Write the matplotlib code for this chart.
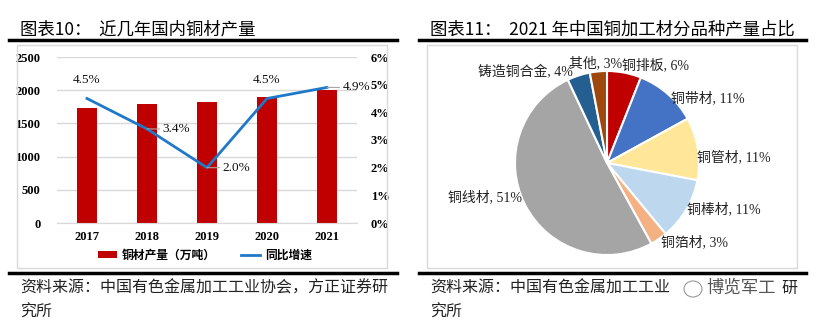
import numpy as np
import matplotlib.pyplot as plt
from matplotlib.patches import Rectangle, Ellipse
from matplotlib.lines import Line2D

plt.rcParams['font.family'] = ['Liberation Serif', 'Noto Sans CJK SC', 'DejaVu Sans']

# 左图：近几年国内铜材产量
years = ['2017', '2018', '2019', '2020', '2021']
output = [1728, 1786, 1822, 1904, 1997]      # 万吨
growth = [4.5, 3.4, 2.0, 4.5, 4.9]           # %
growth_labels = ['4.5%', '3.4%', '2.0%', '4.5%', '4.9%']

# 右图：2021年铜加工材分品种产量占比
kinds = ['铜排板', '铜带材', '铜管材', '铜棒材', '铜箔材', '铜线材', '铸造铜合金', '其他']
shares = [6, 11, 11, 11, 3, 51, 4, 3]
pie_colors = ['#C00000', '#4472C4', '#FFE699', '#BDD7EE', '#F4B183',
              '#A5A5A5', '#255E91', '#9E480E']

W, H = 816, 325
fig = plt.figure(figsize=(W / 100, H / 100), dpi=100)


def fx(px):
    return px / W


def fy(py):
    return 1 - py / H


# 标题、横线、边框
fig.text(fx(20), fy(30), '图表10：  近几年国内铜材产量', fontsize=12.5,
         family=['Noto Sans CJK SC', 'Liberation Serif'], va='center')
fig.text(fx(430), fy(30), '图表11：  2021 年中国铜加工材分品种产量占比', fontsize=12.5,
         family=['Noto Sans CJK SC', 'Liberation Serif'], va='center')
for x0, x1 in [(9, 397), (419, 806)]:
    fig.add_artist(Line2D([fx(x0), fx(x1)], [fy(40), fy(40)], color='black', lw=2.5))
    fig.add_artist(Line2D([fx(x0), fx(x1)], [fy(273), fy(273)], color='black', lw=2.5))
for x0, x1 in [(17, 387), (427, 797)]:
    fig.add_artist(Rectangle((fx(x0), fy(268)), fx(x1 - x0), (268 - 45) / H,
                             fill=False, ec='#D9D9D9', lw=1))

src_style = dict(fontsize=11.5, style='italic', family=['Noto Sans CJK SC'],
                 va='center', color='#222222')
fig.text(fx(20), fy(288), '资料来源：中国有色金属加工工业协会，方正证券研', **src_style)
fig.text(fx(20), fy(312), '究所', **src_style)
fig.text(fx(430), fy(288), '资料来源：中国有色金属加工工业', **src_style)
fig.text(fx(781), fy(288), '研', **src_style)
fig.text(fx(430), fy(312), '究所', **src_style)
# 水印
fig.add_artist(Ellipse((fx(693), fy(289)), fx(18), 16 / H, fill=False,
                       ec='#999999', lw=0.8))
fig.text(fx(706), fy(288), '博览军工', fontsize=12.5, family=['Noto Sans CJK SC'],
         va='center', color='#555555')

# 左图：柱状 + 折线
ax = fig.add_axes([fx(57), fy(223), fx(300), (223 - 57) / H])
x = np.arange(len(years))
ax.bar(x, output, width=0.32, color='#C00000', zorder=2, label='铜材产量（万吨）')
ax.set_xlim(-0.5, len(years) - 0.5)
ax.set_ylim(0, 2500)
ax.set_yticks(np.arange(0, 2501, 500))
ax.yaxis.grid(True, color='#D9D9D9', lw=1)
ax.set_axisbelow(True)
for s in ax.spines.values():
    s.set_visible(False)
ax.spines['bottom'].set_visible(True)
ax.spines['bottom'].set_color('#D9D9D9')
ax.tick_params(length=0)
ax.tick_params(axis='y', pad=12)
ax.tick_params(axis='x', pad=6)
ax.set_xticks(x)
ax.set_xticklabels(years)
for t in ax.get_xticklabels() + ax.get_yticklabels():
    t.set_fontweight('bold')
    t.set_fontsize(9)

ax2 = ax.twinx()
ax2.plot(x, growth, color='#2078C8', lw=2, zorder=3, label='同比增速')
ax2.set_ylim(0, 6)
ax2.set_yticks(range(0, 7))
ax2.set_yticklabels([f'{v}%' for v in range(0, 7)])
for s in ax2.spines.values():
    s.set_visible(False)
ax2.tick_params(length=0, pad=10)
for t in ax2.get_yticklabels():
    t.set_fontweight('bold')
    t.set_fontsize(9)

# 数据标签：上方或右侧（带引线）
above = [True, False, False, True, False]
for i, (g, lab) in enumerate(zip(growth, growth_labels)):
    if above[i]:
        ax2.annotate(lab, (x[i], g), xytext=(0, 9), textcoords='offset points',
                     ha='center', va='bottom', fontsize=9.5, color='#111111')
    else:
        ax2.annotate(lab, (x[i], g), xytext=(11, 0), textcoords='offset points',
                     ha='left', va='center', fontsize=9.5, color='#111111',
                     arrowprops=dict(arrowstyle='-', color='#A6A6A6', lw=0.8,
                                     shrinkA=0, shrinkB=0))

h1, l1 = ax.get_legend_handles_labels()
h2, l2 = ax2.get_legend_handles_labels()
fig.legend(h1 + h2, l1 + l2, loc='center', bbox_to_anchor=(fx(205), fy(255)),
           ncol=2, frameon=False, handlelength=1.6, handleheight=0.6,
           columnspacing=2.2, handletextpad=0.4,
           prop=dict(family=['Noto Sans CJK SC'], weight='bold', size=8.5))

# 右图：饼图
k = 1.6
R = 92
cx, cy = 607, 163
axp = fig.add_axes([fx(cx - R * k), fy(cy + R * k), fx(2 * R * k), 2 * R * k / H])
wedges, _ = axp.pie(shares, colors=pie_colors, startangle=90, counterclock=False,
                    radius=1, wedgeprops=dict(edgecolor='white', linewidth=1.5))
axp.set_xlim(-k, k)
axp.set_ylim(-k, k)
axp.set_aspect('auto')
axp.axis('off')

# 标签位置（以半径为单位）
label_pos = [(0.53, 1.065), (1.10, 0.70), (1.38, 0.065), (1.27, -0.50),
             (0.95, -0.86), (-1.33, -0.37), (-0.89, 0.99), (-0.125, 1.087)]
for name, v, (lx, ly) in zip(kinds, shares, label_pos):
    axp.text(lx, ly, f'{name}, {v}%', ha='center', va='center', fontsize=10,
             family=['Liberation Serif', 'Noto Sans CJK SC'], color='#222222')

fig.savefig('out.png', dpi=100)
